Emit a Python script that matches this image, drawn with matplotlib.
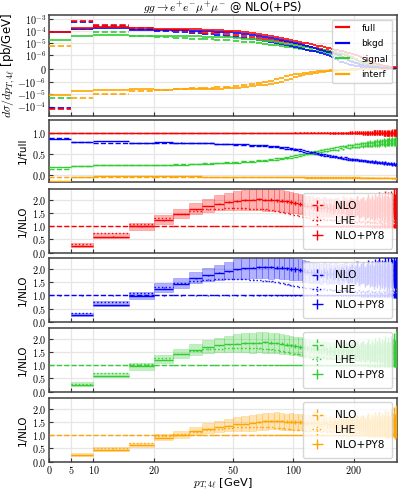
import numpy as np
import matplotlib
matplotlib.use('Agg')
import matplotlib.pyplot as plt
from matplotlib.lines import Line2D
from matplotlib.ticker import FixedLocator, FixedFormatter, NullLocator

plt.rcParams['font.family'] = ['DejaVu Sans']
plt.rcParams['mathtext.fontset'] = 'cm'

# 5 GeV bins in pT,4l
edges = np.arange(0, 335, 5)
centers = 0.5 * (edges[1:] + edges[:-1])
half = 2.5

# NLO full distribution [pb/GeV]
nlo_full = np.array([
    -1.5e-4, 6.7e-4, 3.3e-4, 1.77e-4, 1.31e-4, 1.03e-4, 8.6e-5, 7.4e-5, 6.5e-5, 5.6e-5,
    4.9e-5, 4.0e-5, 3.35e-5, 2.8e-5, 2.35e-5, 1.95e-5, 1.64e-5, 1.38e-5, 1.17e-5, 1.0e-5,
    8.3e-6, 7.2e-6, 6.2e-6, 5.4e-6, 4.7e-6, 4.15e-6, 3.65e-6, 3.2e-6, 2.85e-6, 2.5e-6,
    2.2e-6, 1.95e-6, 1.72e-6, 1.52e-6, 1.35e-6, 1.2e-6, 1.08e-6, 9.6e-7, 8.6e-7, 7.7e-7,
    6.9e-7, 6.2e-7, 5.6e-7, 5.0e-7, 4.5e-7, 4.1e-7, 3.7e-7, 3.35e-7, 3.05e-7, 2.75e-7,
    2.5e-7, 2.28e-7, 2.07e-7, 1.88e-7, 1.71e-7, 1.56e-7, 1.42e-7, 1.3e-7, 1.18e-7, 1.08e-7,
    9.9e-8, 9.0e-8, 8.2e-8, 7.5e-8, 6.9e-8, 6.3e-8])

# NLO component fractions (component / full)
f_bkgd = np.array([
    0.88, 0.79, 0.76, 0.76, 0.77, 0.77, 0.76, 0.75, 0.74, 0.73,
    0.72, 0.71, 0.70, 0.69, 0.68, 0.67, 0.66, 0.64, 0.63, 0.61,
    0.59, 0.57, 0.55, 0.53, 0.52, 0.50, 0.49, 0.47, 0.46, 0.45,
    0.44, 0.43, 0.42, 0.41, 0.40, 0.39, 0.38, 0.37, 0.37, 0.36,
    0.35, 0.35, 0.34, 0.34, 0.33, 0.33, 0.32, 0.32, 0.31, 0.31,
    0.30, 0.31, 0.29, 0.30, 0.28, 0.29, 0.27, 0.29, 0.26, 0.28,
    0.26, 0.27, 0.25, 0.27, 0.24, 0.26])
f_sig = np.array([
    0.14, 0.225, 0.24, 0.24, 0.25, 0.26, 0.27, 0.28, 0.30, 0.31,
    0.32, 0.33, 0.34, 0.36, 0.37, 0.38, 0.40, 0.41, 0.43, 0.45,
    0.47, 0.49, 0.51, 0.53, 0.55, 0.56, 0.58, 0.60, 0.61, 0.62,
    0.64, 0.65, 0.66, 0.67, 0.68, 0.69, 0.70, 0.71, 0.71, 0.72,
    0.73, 0.73, 0.74, 0.75, 0.75, 0.76, 0.77, 0.76, 0.78, 0.77,
    0.79, 0.78, 0.80, 0.79, 0.81, 0.80, 0.82, 0.80, 0.83, 0.81,
    0.84, 0.82, 0.85, 0.83, 0.86, 0.85])
f_int = np.array([
    -0.04, -0.03, -0.03, -0.03, -0.035, -0.035, -0.035, -0.04, -0.04, -0.04,
    -0.04, -0.04, -0.042, -0.042, -0.044, -0.045, -0.046, -0.047, -0.048, -0.049,
    -0.05, -0.05, -0.051, -0.052, -0.052, -0.053, -0.053, -0.054, -0.054, -0.055,
    -0.055, -0.056, -0.056, -0.057, -0.057, -0.058, -0.058, -0.059, -0.059, -0.06,
    -0.06, -0.06, -0.061, -0.061, -0.062, -0.062, -0.063, -0.063, -0.064, -0.064,
    -0.065, -0.065, -0.066, -0.066, -0.066, -0.067, -0.067, -0.068, -0.068, -0.068,
    -0.069, -0.069, -0.07, -0.07, -0.07, -0.07])

# NLO+PY8 / NLO
r_full = np.array([
    -0.6, 0.27, 0.61, 0.99, 1.22, 1.46, 1.63, 1.76, 1.85, 1.91, 1.95, 1.98, 2.00,
    2.01, 2.00, 2.00, 1.98, 1.96, 1.93, 1.90, 1.86, 1.83, 1.80, 1.77, 1.76, 1.73,
    1.72, 1.69, 1.74, 1.68, 1.71, 1.66, 1.73, 1.70, 1.67, 1.75, 1.69, 1.64, 1.72, 1.71,
    1.66, 1.78, 1.63, 1.70, 1.74, 1.61, 1.69, 1.77, 1.65, 1.72, 1.60, 1.75, 1.68, 1.80,
    1.62, 1.71, 1.66, 1.79, 1.64, 1.73, 1.58, 1.76, 1.70, 1.85, 1.65, 1.90])
r_bkgd = np.array([
    -0.58, 0.27, 0.65, 0.99, 1.25, 1.45, 1.64, 1.76, 1.85, 1.92, 1.98, 2.02, 2.05,
    2.07, 2.08, 2.07, 2.05, 2.04, 2.02, 2.00, 1.98, 1.96, 1.93, 1.90, 1.88, 1.86,
    1.85, 1.82, 1.87, 1.80, 1.84, 1.79, 1.86, 1.78, 1.83, 1.81, 1.88, 1.76, 1.82, 1.85,
    1.77, 1.90, 1.74, 1.83, 1.86, 1.72, 1.81, 1.89, 1.75, 1.84, 1.70, 1.87, 1.79, 1.93,
    1.73, 1.82, 1.76, 1.91, 1.71, 1.85, 1.68, 1.88, 1.78, 1.95, 1.74, 2.00])
r_sig = np.array([
    -0.81, 0.27, 0.60, 0.97, 1.20, 1.42, 1.57, 1.68, 1.75, 1.79, 1.82, 1.84, 1.85,
    1.86, 1.87, 1.86, 1.84, 1.81, 1.78, 1.75, 1.72, 1.70, 1.68, 1.65, 1.62, 1.60,
    1.59, 1.56, 1.60, 1.54, 1.57, 1.53, 1.58, 1.51, 1.56, 1.54, 1.59, 1.50, 1.55, 1.57,
    1.49, 1.60, 1.48, 1.55, 1.58, 1.47, 1.54, 1.61, 1.46, 1.56, 1.45, 1.59, 1.50, 1.63,
    1.46, 1.55, 1.48, 1.62, 1.44, 1.57, 1.42, 1.60, 1.50, 1.66, 1.45, 1.70])
r_int = np.array([
    -2.0, 0.26, 0.45, 0.64, 0.90, 1.02, 1.15, 1.25, 1.31, 1.37, 1.41, 1.44, 1.47,
    1.50, 1.53, 1.55, 1.54, 1.53, 1.52, 1.51, 1.50, 1.49, 1.48, 1.47, 1.47, 1.46,
    1.45, 1.43, 1.47, 1.41, 1.44, 1.40, 1.46, 1.39, 1.43, 1.42, 1.47, 1.38, 1.43, 1.45,
    1.37, 1.48, 1.36, 1.43, 1.46, 1.35, 1.42, 1.49, 1.34, 1.44, 1.33, 1.47, 1.38, 1.51,
    1.34, 1.43, 1.36, 1.50, 1.32, 1.45, 1.30, 1.48, 1.38, 1.54, 1.33, 1.58])

# LHE / NLO
l_full = np.array([
    -0.5, 0.33, 0.73, 1.08, 1.30, 1.47, 1.58, 1.63, 1.66, 1.68, 1.68, 1.67, 1.66,
    1.65, 1.63, 1.60, 1.57, 1.53, 1.49, 1.45, 1.42, 1.38, 1.35, 1.33, 1.31, 1.29,
    1.28, 1.26, 1.27, 1.24, 1.25, 1.22, 1.24, 1.21, 1.23, 1.20, 1.22, 1.19, 1.21, 1.18,
    1.20, 1.17, 1.22, 1.16, 1.19, 1.15, 1.18, 1.21, 1.14, 1.17, 1.16, 1.19, 1.13, 1.18,
    1.15, 1.12, 1.17, 1.14, 1.20, 1.11, 1.16, 1.13, 1.18, 1.10, 1.15, 1.12])
l_bkgd = np.array([
    -0.5, 0.35, 0.75, 1.09, 1.30, 1.46, 1.55, 1.60, 1.62, 1.63, 1.63, 1.62, 1.60,
    1.58, 1.56, 1.53, 1.50, 1.46, 1.42, 1.38, 1.35, 1.32, 1.30, 1.28, 1.27, 1.25,
    1.24, 1.22, 1.25, 1.21, 1.23, 1.19, 1.22, 1.18, 1.21, 1.17, 1.20, 1.16, 1.19, 1.15,
    1.18, 1.14, 1.20, 1.13, 1.17, 1.12, 1.16, 1.19, 1.11, 1.15, 1.14, 1.17, 1.10, 1.16,
    1.13, 1.09, 1.15, 1.12, 1.18, 1.08, 1.14, 1.11, 1.16, 1.07, 1.13, 1.10])
l_sig = np.array([
    -0.5, 0.30, 0.72, 1.05, 1.26, 1.42, 1.53, 1.60, 1.63, 1.65, 1.66, 1.66, 1.65,
    1.64, 1.62, 1.60, 1.57, 1.54, 1.50, 1.47, 1.44, 1.41, 1.38, 1.35, 1.33, 1.31,
    1.30, 1.28, 1.31, 1.27, 1.29, 1.25, 1.28, 1.24, 1.27, 1.23, 1.26, 1.22, 1.25, 1.21,
    1.24, 1.20, 1.26, 1.19, 1.23, 1.18, 1.22, 1.25, 1.17, 1.21, 1.20, 1.23, 1.16, 1.22,
    1.19, 1.15, 1.21, 1.18, 1.24, 1.14, 1.20, 1.17, 1.22, 1.13, 1.19, 1.16])
l_int = np.array([
    -0.5, 0.27, 0.50, 0.72, 0.97, 1.06, 1.14, 1.20, 1.25, 1.28, 1.30, 1.31, 1.32,
    1.32, 1.31, 1.30, 1.28, 1.26, 1.24, 1.22, 1.21, 1.20, 1.19, 1.18, 1.18, 1.17,
    1.17, 1.15, 1.18, 1.14, 1.16, 1.13, 1.16, 1.12, 1.15, 1.11, 1.14, 1.10, 1.13, 1.09,
    1.12, 1.08, 1.14, 1.07, 1.11, 1.06, 1.10, 1.13, 1.05, 1.09, 1.08, 1.11, 1.04, 1.10,
    1.07, 1.03, 1.09, 1.06, 1.12, 1.02, 1.08, 1.05, 1.10, 1.01, 1.07, 1.04])

# scale-uncertainty band (relative up / down)
rel_up = np.array([
    0.10, 0.30, 0.21, 0.13, 0.17, 0.14, 0.15, 0.16, 0.17, 0.18, 0.19, 0.20, 0.20,
    0.21, 0.21, 0.20, 0.21, 0.20, 0.20, 0.21, 0.20, 0.21, 0.21, 0.20, 0.21, 0.20,
    0.21, 0.20, 0.21, 0.21, 0.20, 0.21, 0.20, 0.21, 0.20, 0.21, 0.21, 0.20, 0.21, 0.20,
    0.21, 0.20, 0.21, 0.20, 0.21, 0.21, 0.20, 0.21, 0.20, 0.21, 0.20, 0.21, 0.20, 0.21,
    0.21, 0.20, 0.21, 0.20, 0.21, 0.20, 0.21, 0.20, 0.21, 0.20, 0.21, 0.20])
rel_dn = np.array([
    0.10, 0.15, 0.10, 0.14, 0.10, 0.11, 0.11, 0.12, 0.14, 0.16, 0.18, 0.19, 0.20,
    0.20, 0.21, 0.21, 0.20, 0.21, 0.20, 0.21, 0.20, 0.20, 0.21, 0.20, 0.21, 0.20,
    0.20, 0.21, 0.20, 0.21, 0.20, 0.20, 0.21, 0.20, 0.21, 0.20, 0.20, 0.21, 0.20, 0.21,
    0.20, 0.20, 0.21, 0.20, 0.21, 0.20, 0.20, 0.21, 0.20, 0.21, 0.20, 0.20, 0.21, 0.20,
    0.21, 0.20, 0.20, 0.21, 0.20, 0.21, 0.20, 0.20, 0.21, 0.20, 0.21, 0.20])

# statistical errors (relative): fractions panel and ratio panels
stat_frac = np.array([
    0.002, 0.002, 0.002, 0.002, 0.002, 0.002, 0.002, 0.002, 0.002, 0.003,
    0.003, 0.003, 0.003, 0.004, 0.004, 0.004, 0.005, 0.005, 0.006, 0.006,
    0.007, 0.008, 0.009, 0.010, 0.011, 0.012, 0.013, 0.014, 0.016, 0.017,
    0.018, 0.020, 0.021, 0.023, 0.024, 0.026, 0.028, 0.029, 0.031, 0.033,
    0.035, 0.036, 0.038, 0.040, 0.042, 0.044, 0.046, 0.048, 0.050, 0.052,
    0.054, 0.056, 0.058, 0.060, 0.062, 0.064, 0.066, 0.068, 0.070, 0.072,
    0.074, 0.076, 0.078, 0.080, 0.082, 0.085])
stat_ratio = np.array([
    0.005, 0.005, 0.005, 0.005, 0.006, 0.006, 0.007, 0.008, 0.009, 0.010,
    0.012, 0.014, 0.016, 0.018, 0.020, 0.023, 0.026, 0.030, 0.034, 0.038,
    0.042, 0.047, 0.052, 0.058, 0.064, 0.070, 0.077, 0.084, 0.091, 0.098,
    0.105, 0.112, 0.120, 0.128, 0.136, 0.144, 0.152, 0.160, 0.168, 0.176,
    0.184, 0.192, 0.200, 0.208, 0.216, 0.224, 0.232, 0.240, 0.248, 0.256,
    0.262, 0.268, 0.274, 0.280, 0.286, 0.292, 0.298, 0.304, 0.310, 0.316,
    0.322, 0.328, 0.334, 0.340, 0.346, 0.352])

names = ['full', 'bkgd', 'signal', 'interf']
colors = ['red', 'blue', 'limegreen', 'orange']
fracs = [np.ones_like(f_bkgd), f_bkgd, f_sig, f_int]
ratios = [r_full, r_bkgd, r_sig, r_int]
lhes = [l_full, l_bkgd, l_sig, l_int]

xticks = [0, 5, 10, 20, 50, 100, 200]
xlim = (0, 330)
tick_fs = 7.3
lab_fs = 7.5


def bins(ax, y, err, color, ls, lw=1.0, label=None, z=3):
    eb = ax.errorbar(centers, y, xerr=half, yerr=np.abs(err), fmt='none', ecolor=color,
                     elinewidth=lw, capsize=0, label=label, zorder=z)
    for lc in eb[2]:
        lc.set_linestyle(ls)
    return eb


def style(ax, yticks, ylabels, ylim, xlabels=False, labx=-0.06):
    ax.set_xscale('symlog', linthresh=10, linscale=0.2)
    ax.set_xlim(*xlim)
    ax.set_ylim(*ylim)
    ax.xaxis.set_major_locator(FixedLocator(xticks))
    ax.xaxis.set_minor_locator(NullLocator())
    ax.yaxis.set_major_locator(FixedLocator(yticks))
    ax.yaxis.set_major_formatter(FixedFormatter(ylabels))
    ax.yaxis.set_minor_locator(NullLocator())
    if xlabels:
        ax.xaxis.set_major_formatter(FixedFormatter(['$%d$' % t for t in xticks]))
    else:
        ax.tick_params(axis='x', labelbottom=False)
    ax.tick_params(direction='in', length=3, width=0.8, labelsize=tick_fs,
                   color='#333333', pad=2)
    ax.grid(True, color='#e6e6e6', lw=0.9, zorder=0)
    ax.set_axisbelow(True)
    for s in ax.spines.values():
        s.set_color('#404040')
        s.set_linewidth(1.1)
    ax.yaxis.set_label_coords(labx, 0.5)


fig = plt.figure(figsize=(3.99, 4.91), dpi=100)
L, W = 49 / 399, 348 / 399
H = 491.0
ax1 = fig.add_axes([L, 1 - 116 / H, W, 101 / H])
ax2 = fig.add_axes([L, 1 - 181.7 / H, W, 61.7 / H])
rax = []
for top, bot in [(189, 252.7), (258.3, 322), (328.3, 391.7), (398.3, 461.7)]:
    rax.append(fig.add_axes([L, 1 - bot / H, W, (bot - top) / H]))

# top panel: absolute distributions
for k in [3, 2, 1, 0]:
    c = colors[k]
    nlo = nlo_full * fracs[k]
    py8 = nlo * ratios[k]
    bins(ax1, nlo, nlo * stat_frac, c, '--', lw=1.2, z=3)
    bins(ax1, py8, py8 * stat_frac, c, '-', lw=1.2, z=4)
ax1.set_yscale('symlog', linthresh=1e-6)
top_ticks = [-1e-4, -1e-5, -1e-6, 0, 1e-6, 1e-5, 1e-4, 1e-3]
top_labels = [r'$-10^{-4}$', r'$-10^{-5}$', r'$-10^{-6}$', r'$0$',
              r'$10^{-6}$', r'$10^{-5}$', r'$10^{-4}$', r'$10^{-3}$']
style(ax1, top_ticks, top_labels, (-6e-4, 2.1e-3), labx=-0.092)
ax1.set_ylabel(r'$d\sigma/dp_{T,4\ell}$ [pb/GeV]', fontsize=8.5)
ax1.set_title(r'$gg \to e^{+}e^{-}\mu^{+}\mu^{-}$ @ NLO(+PS)', fontsize=8.3, pad=2)
handles = [Line2D([], [], color=c, lw=1.6) for c in colors]
ax1.legend(handles, names, loc='upper right', fontsize=6.5, labelspacing=0.72,
           handlelength=1.4, handletextpad=1.4, borderpad=0.45, borderaxespad=0.5)

# second panel: component / full
for k in [3, 2, 1, 0]:
    c = colors[k]
    f_py8 = fracs[k] * ratios[k] / r_full
    bins(ax2, fracs[k], fracs[k] * stat_frac, c, '--', z=3)
    bins(ax2, f_py8, f_py8 * stat_frac, c, '-', z=4)
style(ax2, [0.0, 0.5, 1.0], ['$0.0$', '$0.5$', '$1.0$'], (-0.15, 1.3))
ax2.set_ylabel('1/full', fontsize=lab_fs)

# ratio panels: X / NLO
rt = [0.0, 0.5, 1.0, 1.5, 2.0]
rl = ['$0.0$', '$0.5$', '$1.0$', '$1.5$', '$2.0$']
for k, ax in enumerate(rax):
    c = colors[k]
    r = ratios[k]
    lo = r * (1 - rel_dn)
    hi = r * (1 + rel_up)
    ax.bar(centers, hi - lo, bottom=lo, width=5, color=c, alpha=0.3,
           edgecolor=c, linewidth=0.5, zorder=2)
    e1 = bins(ax, np.ones_like(r), stat_frac, c, '--', label='NLO', z=3)
    e2 = bins(ax, lhes[k], lhes[k] * stat_frac, c, ':', label='LHE', z=3)
    e3 = bins(ax, r, r * stat_ratio, c, '-', label='NLO+PY8', z=4)
    style(ax, rt, rl, (0, 2.4), xlabels=(k == 3))
    ax.set_ylabel('1/NLO', fontsize=lab_fs)
    ax.legend(handles=[e1, e2, e3], loc='center right', fontsize=7.6,
              labelspacing=0.45, handlelength=1.3, handletextpad=1.0,
              borderpad=0.75, borderaxespad=0.45)

rax[-1].set_xlabel(r'$p_{T,4\ell}$ [GeV]', fontsize=8.2, labelpad=0)

fig.savefig('out.png', dpi=100)
